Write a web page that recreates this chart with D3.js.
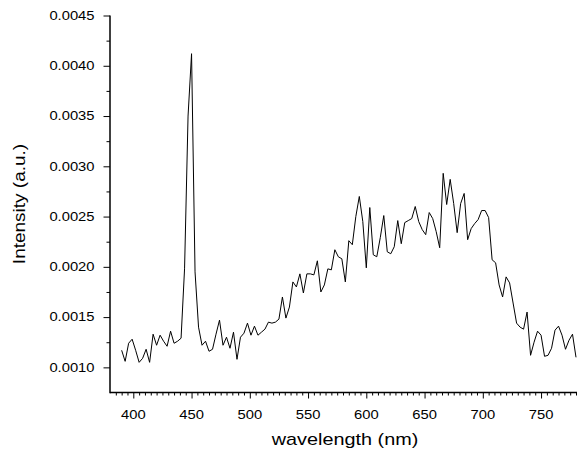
<!DOCTYPE html>
<html>
<head>
<meta charset="utf-8">
<script src="https://cdn.jsdelivr.net/npm/d3@7"></script>
<style>
  html, body { margin: 0; padding: 0; background: #fff; }
  svg { display: block; }
  text { font-family: "Liberation Sans", Arial, Helvetica, sans-serif; fill: #000; }
</style>
</head>
<body>
<svg id="chart" width="577" height="454"></svg>
<script>
// --- data ---
const wavelength = [
  390, 393, 396, 399, 402, 405, 408, 411, 414, 417, 420, 423, 426, 429, 432, 435, 438, 441,
  444, 447, 450, 453, 456, 459, 462, 465, 468, 471, 474, 477, 480, 483, 486, 489, 492, 495,
  498, 501, 504, 507, 510, 513, 516, 519, 522, 525, 528, 531, 534, 537, 540, 543, 546, 549,
  552, 555, 558, 561, 564, 567, 570, 573, 576, 579, 582, 585, 588, 591, 594, 597, 600, 603,
  606, 609, 612, 615, 618, 621, 624, 627, 630, 633, 636, 639, 642, 645, 648, 651, 654, 657,
  660, 663, 666, 669, 672, 675, 678, 681, 684, 687, 690, 693, 696, 699, 702, 705, 708, 711,
  714, 717, 720, 723, 726, 729, 732, 735, 738, 741, 744, 747, 750, 753, 756, 759, 762, 765,
  768, 771, 774, 777, 780
];
const intensity = [
  0.00117, 0.00106, 0.00124, 0.00128, 0.00117, 0.00105, 0.00109, 0.00118, 0.00105, 0.00133,
  0.00122, 0.00132, 0.00126, 0.00121, 0.00136, 0.00124, 0.00126, 0.00129,
  0.00198, 0.00350, 0.00412, 0.00195, 0.00140, 0.00122, 0.00126, 0.00116, 0.00118, 0.00133,
  0.00147, 0.00122, 0.00130, 0.00119, 0.00135, 0.00108, 0.00130, 0.00134,
  0.00144, 0.00132, 0.00141, 0.00132, 0.00135, 0.00138, 0.00145, 0.00144, 0.00145, 0.00148,
  0.00170, 0.00149, 0.00160, 0.00185, 0.00180, 0.00193, 0.00174, 0.00193,
  0.00193, 0.00192, 0.00206, 0.00175, 0.00182, 0.00198, 0.00197, 0.00217, 0.00210, 0.00208,
  0.00185, 0.00226, 0.00222, 0.00250, 0.00270, 0.00245, 0.00199, 0.00259,
  0.00212, 0.00210, 0.00229, 0.00251, 0.00215, 0.00213, 0.00220, 0.00246, 0.00223, 0.00244,
  0.00246, 0.00248, 0.00260, 0.00245, 0.00237, 0.00232, 0.00254, 0.00248,
  0.00235, 0.00219, 0.00293, 0.00262, 0.00287, 0.00263, 0.00234, 0.00263, 0.00273, 0.00227,
  0.00238, 0.00243, 0.00247, 0.00256, 0.00256, 0.00249, 0.00207, 0.00204,
  0.00182, 0.00170, 0.00190, 0.00184, 0.00164, 0.00144, 0.00140, 0.00138, 0.00155, 0.00112,
  0.00125, 0.00136, 0.00132, 0.00111, 0.00112, 0.00119, 0.00137, 0.00141,
  0.00132, 0.00118, 0.00127, 0.00133, 0.00110
];
const xDomain = [380, 780];
const yDomain = [0.00075, 0.0045];
const xMajorTicks = [400, 450, 500, 550, 600, 650, 700, 750];
const yMajorTicks = [0.0010, 0.0015, 0.0020, 0.0025, 0.0030, 0.0035, 0.0040, 0.0045];
const xLabel = "wavelength (nm)";
const yLabel = "Intensity (a.u.)";

// --- layout ---
const svg = d3.select("#chart");
const plotLeft = 110, plotRight = 576, plotTop = 15.5, plotBottom = 392.5;
const stretch = 1.23; // text in the reference is a bit wider than tall

const x = d3.scaleLinear().domain(xDomain).range([plotLeft, plotRight]);
const y = d3.scaleLinear().domain(yDomain).range([plotBottom, plotTop]);

const data = wavelength.map((w, i) => ({ w, v: intensity[i] }));

// spectrum line
svg.append("path")
  .datum(data)
  .attr("fill", "none")
  .attr("stroke", "#000")
  .attr("stroke-width", 1)
  .attr("d", d3.line().x(d => x(d.w)).y(d => y(d.v)));

// x axis: minor ticks every 5 nm, major every 50
const xMinor = d3.range(385, 781, 5).filter(t => t % 50 !== 0);
const gx = svg.append("g").attr("transform", `translate(0,${plotBottom})`);
gx.append("g")
  .call(d3.axisBottom(x).tickValues(xMinor).tickSize(3).tickFormat(""))
  .call(g => g.select(".domain").remove());
gx.append("g")
  .call(d3.axisBottom(x).tickValues(xMajorTicks).tickSize(6).tickFormat(""))
  .call(g => g.select(".domain").remove());
gx.selectAll("line").attr("stroke", "#000").attr("stroke-width", 1);
gx.append("line").attr("x1", plotLeft).attr("x2", plotRight + 1)
  .attr("stroke", "#000").attr("stroke-width", 1.5);

gx.selectAll(".xlab").data(xMajorTicks).enter().append("text")
  .attr("class", "xlab")
  .attr("transform", d => `translate(${x(d)},${419.3 - plotBottom}) scale(${stretch},1)`)
  .attr("text-anchor", "middle")
  .style("font-size", "12px")
  .text(d => d);

// y axis: one minor tick between majors
const yMinor = [0.00125, 0.00175, 0.00225, 0.00275, 0.00325, 0.00375, 0.00425];
const gy = svg.append("g").attr("transform", `translate(${plotLeft},0)`);
gy.append("g")
  .call(d3.axisLeft(y).tickValues(yMinor).tickSize(3.5).tickFormat(""))
  .call(g => g.select(".domain").remove());
gy.append("g")
  .call(d3.axisLeft(y).tickValues(yMajorTicks).tickSize(6.5).tickFormat(""))
  .call(g => g.select(".domain").remove());
gy.selectAll("line").attr("stroke", "#000").attr("stroke-width", 1);
gy.append("line").attr("y1", plotTop).attr("y2", plotBottom + 0.75)
  .attr("stroke", "#000").attr("stroke-width", 1.5);

gy.selectAll(".ylab").data(yMajorTicks).enter().append("text")
  .attr("class", "ylab")
  .attr("transform", d => `translate(${94.5 - plotLeft},${y(d) + 4.3}) scale(${stretch},1)`)
  .attr("text-anchor", "end")
  .style("font-size", "12px")
  .text(d => d3.format(".4f")(d));

// axis titles
svg.append("text")
  .attr("transform", `translate(${(plotLeft + plotRight) / 2 + 2},445) scale(1.24,1)`)
  .attr("text-anchor", "middle")
  .style("font-size", "16px")
  .text(xLabel);

svg.append("text")
  .attr("transform", `translate(24.5,${(plotTop + plotBottom) / 2}) scale(0.9,1) rotate(-90)`)
  .attr("text-anchor", "middle")
  .style("font-size", "19px")
  .text(yLabel);
</script>
</body>
</html>
